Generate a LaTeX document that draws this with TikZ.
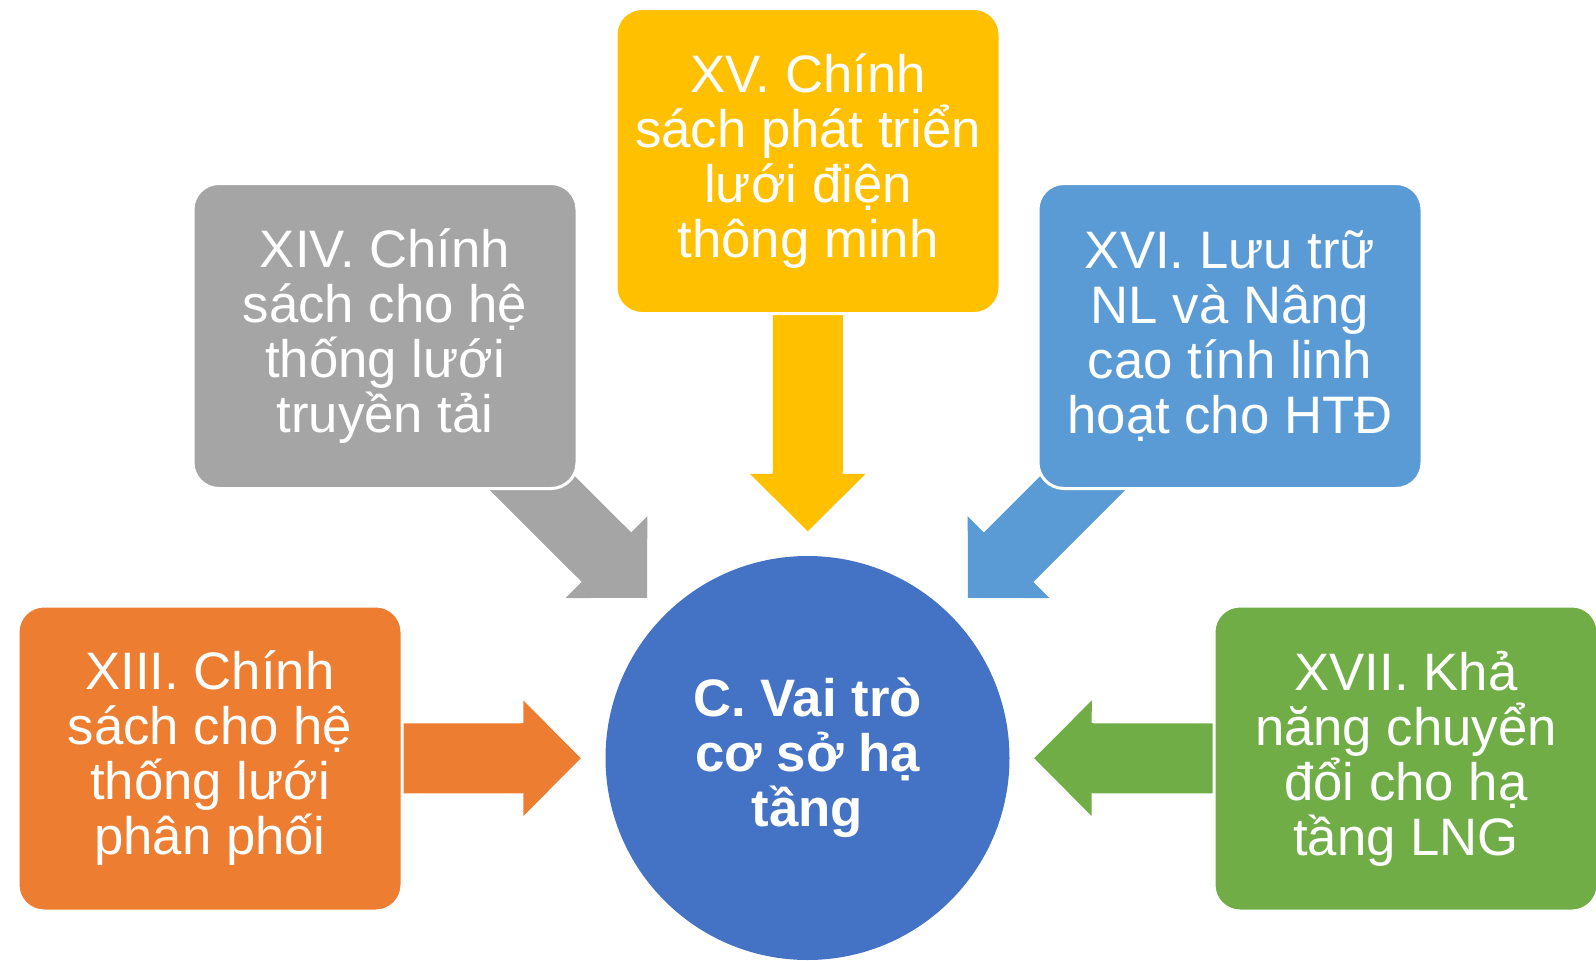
\documentclass[tikz,border=0pt]{standalone}
\usepackage{fontspec}
\setmainfont{Liberation Sans}
\usepackage{xcolor}
\usetikzlibrary{positioning, arrows.meta, backgrounds}
\definecolor{ppyellow}{HTML}{FFC000}
\definecolor{ppgray}{HTML}{A5A5A5}
\definecolor{ppblue}{HTML}{5B9BD5}
\definecolor{pporange}{HTML}{ED7D31}
\definecolor{ppgreen}{HTML}{70AD47}
\definecolor{pphub}{HTML}{4472C4}
\tikzset{
  policy/.style={draw=white, line width=0.03cm, rounded corners=0.26cm, text=white, align=center,
                 font={\fontsize{15pt}{15.65pt}\selectfont}, inner sep=0pt,
                 minimum width=3.84cm, minimum height=3.05cm},
  hub/.style={circle, fill=pphub, text=white, align=center, inner sep=0pt,
              font={\fontsize{15pt}{15.65pt}\selectfont\bfseries}, minimum size=4.04cm},
  push/.style={line width=0.7cm, -{Triangle[width=1.15cm, length=0.575cm, line width=1pt]},
               shorten >=0.24cm}
}

\begin{document}
\begin{tikzpicture}
  \useasboundingbox (0,0) rectangle (15.96,9.6);
  % policy boxes
  \node[policy, fill=ppyellow] (xv) at (8.08,7.99) {XV. Chính\\sách phát triển\\lưới điện\\thông minh};
  \node[policy, fill=ppgray] (xiv) at (3.85,6.24) {XIV. Chính\\sách cho hệ\\thống lưới\\truyền tải};
  \node[policy, fill=ppblue] (xvi) at (12.30,6.24) {XVI. Lưu trữ\\NL và Nâng\\cao tính linh\\hoạt cho HTĐ};
  \node[policy, fill=pporange] (xiii) at (2.10,2.015) {XIII. Chính\\sách cho hệ\\thống lưới\\phân phối};
  \node[policy, fill=ppgreen] (xvii) at (14.06,2.015) {XVII. Khả\\năng chuyển\\đổi cho hạ\\tầng LNG};
  % centre
  \node[hub] (hub) at (8.075,2.02) {C. Vai trò\\cơ sở hạ\\tầng};
  % arrows
  \begin{scope}[on background layer]
    \draw[push, ppyellow] (xv.center) -- (hub);
    \draw[push, ppgray] (xiv.center) -- (hub);
    \draw[push, ppblue] (xvi.center) -- (hub);
    \draw[push, pporange] (xiii.center) -- (hub);
    \draw[push, ppgreen] (xvii.center) -- (hub);
  \end{scope}
\end{tikzpicture}
\end{document}
